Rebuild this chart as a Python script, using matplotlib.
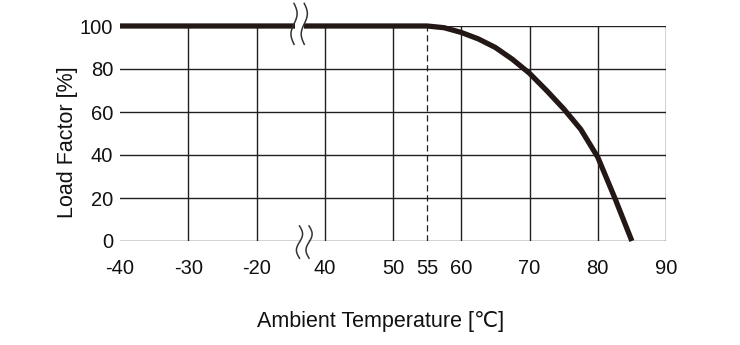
#!/usr/bin/env python3

import numpy as np
import matplotlib.pyplot as plt

plt.rcParams['font.family'] = ['Liberation Sans', 'DejaVu Sans']

INK = "#231f20"
CURVE = "#231815"

# derating curve
temps = [-40, 55, 57.5, 60, 62.5, 65, 67.5, 70, 72.5, 75, 77.5, 80, 82.5, 85]
load = [100, 100, 99.2, 97, 94, 90, 84.5, 78, 70, 61.5, 52, 39, 20, 0]

xticks = [-40, -30, -20, 40, 50, 55, 60, 70, 80, 90]
xgrid = [-30, -20, 40, 50, 60, 70, 80, 90]
yticks = [0, 20, 40, 60, 80, 100]
knee = 55

# axis is broken between -20 and 40: shift the right part by 50
SHIFT = 50


def tx(x):
    x = np.asarray(x, dtype=float)
    return np.where(x <= -20, x, x - SHIFT)


fig = plt.figure(figsize=(7.4, 3.45), dpi=100)
ax = fig.add_axes([120 / 740, 1 - 241 / 345, 546 / 740, 215 / 345])

ax.set_xlim(-40, 40)
ax.set_ylim(0, 100)
for s in ax.spines.values():
    s.set_visible(False)

# grid
for y in yticks:
    ax.axhline(y, color=INK, lw=1.0, zorder=1)
for x in xgrid:
    ax.axvline(tx(x), color=INK, lw=1.0, zorder=1)
ax.plot([tx(knee)] * 2, [0, 100], color=INK, lw=0.9, ls=(0, (5, 3)), zorder=1)

ax.plot(tx(temps), load, color=CURVE, lw=3.8, solid_capstyle='butt',
        clip_on=False, zorder=3)

ax.set_xticks(tx(xticks))
ax.set_xticklabels([str(v) for v in xticks])
ax.set_yticks(yticks)
ax.tick_params(length=0, labelsize=14.5, colors="#111111")
ax.tick_params(axis='x', pad=13)
ax.tick_params(axis='y', pad=5)

# break marks
u = np.linspace(0, 1, 40)
for yc, half, xs in [(101, 9.5, (-14.5, -13.0)), (-0.5, 7.5, (-13.7, -12.3))]:
    ax.fill_between([xs[0] + 0.1, xs[1] - 0.1], yc - 3, yc + 3, color="white",
                    zorder=4, clip_on=False, lw=0)
    for xc in xs:
        ax.plot(xc + 0.45 * np.sin(2 * np.pi * u), yc + half - 2 * half * u,
                color="#333333", lw=1.1, clip_on=False, zorder=5)

fig.text(68 / 740, 1 - 142 / 345, "Load Factor [%]", rotation=90,
         ha='center', va='center', fontsize=15.5, color="#111111")
fig.text(381 / 740, 1 - 322 / 345, "Ambient Temperature [℃]",
         ha='center', va='center', fontsize=15.5, color="#111111")

fig.savefig("out.png", dpi=100)
